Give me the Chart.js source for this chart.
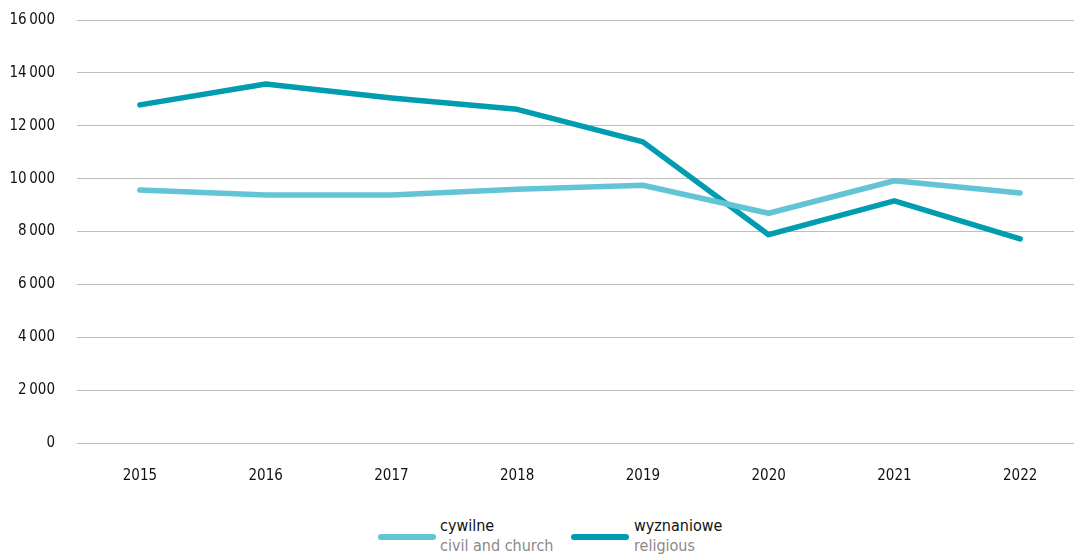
<!DOCTYPE html>
<html><head><meta charset="utf-8">
<script src="https://cdn.jsdelivr.net/npm/chart.js@4/dist/chart.umd.min.js"></script>
<style>
html,body{margin:0;padding:0;background:#fff;width:1074px;height:556px;overflow:hidden;}
#wrap{position:absolute;left:0;top:-11px;width:1083px;height:511px;}
#legend{position:absolute;left:0;top:510px;width:1074px;height:46px;font-family:'DejaVu Sans Condensed','Liberation Sans Narrow',sans-serif;}
.sw{position:absolute;width:58px;height:6px;border-radius:3px;top:24px;}
.t1{position:absolute;white-space:nowrap;font-size:16px;color:#111;top:6px;}
.t2{position:absolute;white-space:nowrap;font-size:16px;color:#8a8a8a;top:26px;}
</style></head>
<body>
<div id="wrap"><canvas id="c" width="1083" height="511"></canvas></div>
<div id="legend"></div>
<script>
const categories = ['2015','2016','2017','2018','2019','2020','2021','2022'];
const civilValues = [9570, 9380, 9380, 9600, 9750, 8690, 9920, 9460];
const religiousValues = [12790, 13580, 13050, 12620, 11390, 7880, 9160, 7720];
const seriesNames = [['cywilne','civil and church'],['wyznaniowe','religious']];
const yTicks = [0,2000,4000,6000,8000,10000,12000,14000,16000];
const colors = ['#63c4d6','#009caf'];

const fmt = v => v >= 1000 ? String(v).replace(/\B(?=(\d{3})+(?!\d))/g, '\u2009') : String(v);
const font = {family:"'DejaVu Sans Condensed','Liberation Sans Narrow',sans-serif", size:15};

new Chart(document.getElementById('c'), {
  type:'line',
  data:{labels:categories, datasets:[
    {label:seriesNames[0][0], data:civilValues, borderColor:colors[0], borderWidth:5.5, pointRadius:0, tension:0, borderCapStyle:'round', borderJoinStyle:'round'},
    {label:seriesNames[1][0], data:religiousValues, borderColor:colors[1], borderWidth:5.5, pointRadius:0, tension:0, borderCapStyle:'round', borderJoinStyle:'round'}
  ]},
  options:{
    responsive:false, animation:false, devicePixelRatio:1,
    layout:{padding:{top:11,left:0,right:0,bottom:0}},
    plugins:{legend:{display:false}, tooltip:{enabled:false}},
    scales:{
      x:{offset:true, grid:{display:false, drawTicks:false}, border:{display:false},
         ticks:{font:font, color:'#111', padding:24, maxRotation:0},
         afterFit:s=>{s.height=57;}},
      y:{min:0,max:16000, afterBuildTicks:s=>{s.ticks=yTicks.map(v=>({value:v}));},
         grid:{color:'#bdbdbd', lineWidth:1, drawTicks:false}, border:{display:false},
         ticks:{font:font, color:'#111', padding:22, callback:v=>fmt(v)},
         afterFit:s=>{s.width=77;}}
    }
  }
});

const lg = document.getElementById('legend');
const pos = [[378,440],[571,634]];
seriesNames.forEach((n,i)=>{
  const sw=document.createElement('div'); sw.className='sw'; sw.style.left=pos[i][0]+'px'; sw.style.background=colors[i]; lg.appendChild(sw);
  const a=document.createElement('div'); a.className='t1'; a.style.left=pos[i][1]+'px'; a.textContent=n[0]; lg.appendChild(a);
  const b=document.createElement('div'); b.className='t2'; b.style.left=pos[i][1]+'px'; b.textContent=n[1]; lg.appendChild(b);
});
</script>
</body></html>
